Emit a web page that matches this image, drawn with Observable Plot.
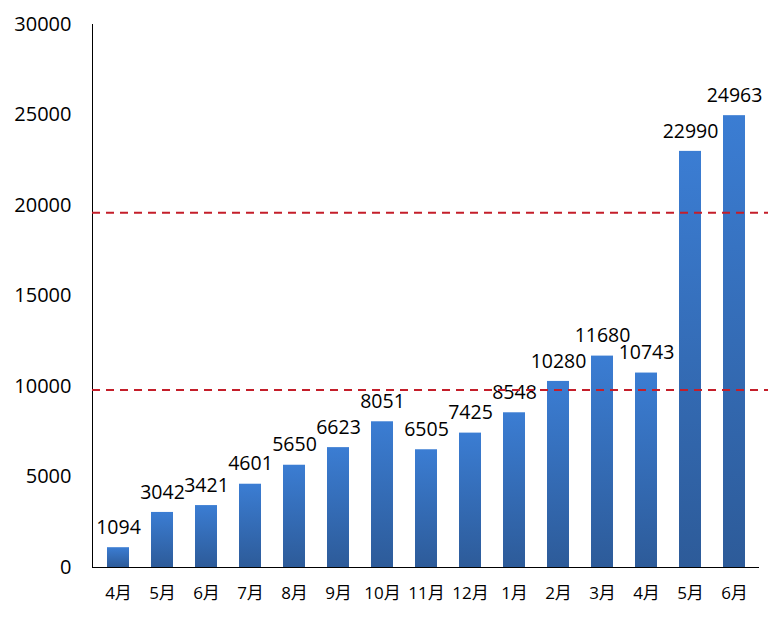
<!DOCTYPE html>
<html>
<head>
<meta charset="utf-8">
<script src="https://cdn.jsdelivr.net/npm/d3@7"></script>
<script src="https://cdn.jsdelivr.net/npm/@observablehq/plot@0.6"></script>
<style>
  body { margin: 0; background: #fff; }
  svg { font-family: "Open Sans", "Noto Sans CJK SC", sans-serif; }
</style>
</head>
<body>
<div id="chart"></div>
<script>
const months = ["4月","5月","6月","7月","8月","9月","10月","11月","12月","1月","2月","3月","4月","5月","6月"];
const values = [1094,3042,3421,4601,5650,6623,8051,6505,7425,8548,10280,11680,10743,22990,24963];
const refLines = [9800, 19600];
const yTicks = [0,5000,10000,15000,20000,25000,30000];

const data = months.map((m, i) => ({i, month: m, value: values[i]}));

function gradientDefs() {
  const ns = "http://www.w3.org/2000/svg";
  const defs = document.createElementNS(ns, "defs");
  const lg = document.createElementNS(ns, "linearGradient");
  lg.setAttribute("id", "barGrad");
  lg.setAttribute("x1", "0"); lg.setAttribute("y1", "0");
  lg.setAttribute("x2", "0"); lg.setAttribute("y2", "1");
  [["0%", "#3b7dd3"], ["100%", "#2d5b99"]].forEach(([o, c]) => {
    const s = document.createElementNS(ns, "stop");
    s.setAttribute("offset", o); s.setAttribute("stop-color", c);
    lg.appendChild(s);
  });
  defs.appendChild(lg);
  return defs;
}

const plot = Plot.plot({
  width: 780,
  height: 617,
  marginLeft: 92,
  marginRight: 21,
  marginTop: 24,
  marginBottom: 50,
  style: {fontFamily: '"Open Sans", "Noto Sans CJK SC", sans-serif', background: "#fff", color: "#000"},
  x: {domain: d3.range(months.length), paddingInner: 0.5, paddingOuter: 0.25, label: null},
  y: {domain: [0, 30000], label: null},
  marks: [
    gradientDefs,
    Plot.axisY({ticks: yTicks, tickSize: 0, tickPadding: 21, fontSize: 20, label: null, tickFormat: d => String(d)}),
    Plot.axisX({tickSize: 0, tickPadding: 19, fontSize: 17, label: null, tickFormat: i => months[i]}),
    Plot.barY(data, {x: "i", y: "value", fill: "url(#barGrad)"}),
    Plot.text(data, {x: "i", y: "value", text: d => String(d.value), dy: -20, fontSize: 19.5, fill: "#000"}),
    Plot.frame({anchor: "left", stroke: "#000"}),
    Plot.ruleY([0], {stroke: "#000", strokeWidth: 1.2}),
    Plot.ruleY(refLines, {stroke: "#c41e2a", strokeWidth: 2, strokeDasharray: "8,6", insetRight: -9})
  ]
});
document.getElementById("chart").appendChild(plot);
</script>
</body>
</html>
